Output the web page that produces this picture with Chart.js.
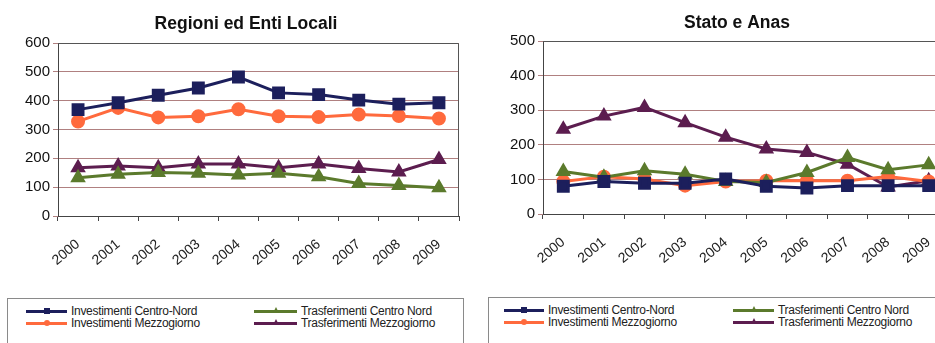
<!DOCTYPE html>
<html>
<head>
<meta charset="utf-8">
<script src="https://cdn.jsdelivr.net/npm/chart.js@4.4.1/dist/chart.umd.min.js"></script>
<style>
  html, body { margin: 0; padding: 0; background: #fff; overflow: hidden; }
  body { width: 935px; height: 343px; position: relative; font-family: 'Liberation Sans', Arial, sans-serif; }
  canvas { position: absolute; top: 0; }
  #chart-left { left: 0; }
  #chart-right { left: 485px; }
  .legend { position: absolute; border: 1px solid #8a8a8a; background: #fff; height: 60px; }
  .item { position: absolute; height: 12px; font-size: 12px; color: #222; white-space: nowrap; }
  .item .ln { position: absolute; top: 5px; height: 3px; }
  .item .mk { position: absolute; }
  .item .tx { position: absolute; top: -1px; letter-spacing: -0.3px; }
</style>
</head>
<body>
<canvas id="chart-left" width="490" height="296"></canvas>
<canvas id="chart-right" width="504" height="294"></canvas>
<div class="legend" id="legend-left" style="left:7px; top:298px; width:455px;"></div>
<div class="legend" id="legend-right" style="left:488px; top:297px; width:500px;"></div>
<script>
const YEARS = ['2000', '2001', '2002', '2003', '2004', '2005', '2006', '2007', '2008', '2009'];

const SERIES_NAMES = [
  'Investimenti Centro-Nord',
  'Trasferimenti Centro Nord',
  'Investimenti Mezzogiorno',
  'Trasferimenti Mezzogiorno'
];

// Regioni ed Enti Locali
const REG_INV_CN = [369, 393, 419, 444, 482, 427, 421, 402, 388, 393];
const REG_TRA_CN = [133, 145, 151, 148, 142, 148, 136, 113, 106, 98];
const REG_INV_MZ = [328, 375, 342, 346, 370, 346, 343, 352, 347, 338];
const REG_TRA_MZ = [167, 173, 167, 180, 180, 167, 180, 165, 153, 196];

// Stato e Anas
const STA_INV_CN = [80, 94, 89, 89, 101, 80, 75, 82, 82, 82];
const STA_TRA_CN = [123, 106, 125, 115, 94, 91, 120, 163, 128, 142];
const STA_INV_MZ = [94, 108, 101, 82, 94, 96, 96, 96, 108, 94];
const STA_TRA_MZ = [245, 283, 308, 264, 222, 188, 178, 144, 78, 96];

const COLORS = ['#1c1f5c', '#5b7a2c', '#ff6a3d', '#5c1d4f'];
const POINTS = ['rect', 'triangle', 'circle', 'triangle'];
const RADII = [7, 6, 5.5, 6];

const FONT = "'Liberation Sans', Arial, sans-serif";

// draws the top and right edges of the plot area
const plotFrame = {
  id: 'plotFrame',
  beforeDatasetsDraw(chart) {
    const { ctx, chartArea: a } = chart;
    ctx.save();
    ctx.strokeStyle = '#555';
    ctx.lineWidth = 1;
    ctx.beginPath();
    ctx.moveTo(a.left, a.top + 0.5);
    ctx.lineTo(a.right - 0.5, a.top + 0.5);
    ctx.lineTo(a.right - 0.5, a.bottom);
    ctx.stroke();
    ctx.restore();
  }
};

// recentres the title block on a given x (Excel centres it a bit off the plot)
const titleShift = {
  id: 'titleShift',
  afterLayout(chart, args, opts) {
    const t = chart.titleBlock;
    if (!t || opts.center == null) return;
    const half = (t.right - t.left) / 2;
    t.left = opts.center - half;
    t.right = opts.center + half;
  }
};

function makeDatasets(values) {
  return values.map((v, i) => ({
    label: SERIES_NAMES[i],
    data: v,
    borderColor: COLORS[i],
    backgroundColor: COLORS[i],
    pointBackgroundColor: COLORS[i],
    pointBorderColor: COLORS[i],
    pointStyle: POINTS[i],
    pointRadius: RADII[i],
    borderWidth: 3,
    tension: 0
  }));
}

function makeChart(id, title, titlePad, titleCenter, max, values, padRight) {
  return new Chart(document.getElementById(id), {
    type: 'line',
    data: { labels: YEARS, datasets: makeDatasets(values) },
    plugins: [plotFrame, titleShift],
    options: {
      responsive: false,
      animation: false,
      devicePixelRatio: 1,
      layout: { padding: { left: 0, right: padRight, top: 0, bottom: 0 } },
      plugins: {
        legend: { display: false },
        tooltip: { enabled: false },
        titleShift: { center: titleCenter },
        title: {
          display: true,
          text: title,
          color: '#111',
          font: { family: FONT, size: 17.5, weight: 'bold' },
          padding: titlePad
        }
      },
      scales: {
        x: {
          offset: true,
          grid: { offset: true, drawOnChartArea: false, drawTicks: true, tickLength: 5, color: '#444' },
          border: { color: '#444', width: 1 },
          ticks: {
            color: '#222',
            font: { family: FONT, size: 14 },
            minRotation: 40,
            maxRotation: 40,
            padding: 15
          },
          afterFit: (s) => { s.height = 80; }
        },
        y: {
          min: 0,
          max: max,
          ticks: {
            stepSize: 100,
            color: '#111',
            font: { family: FONT, size: 15 },
            padding: 3
          },
          grid: { color: '#b08080', tickLength: 5, drawTicks: true },
          border: { color: '#444', width: 1 },
          afterFit: (s) => { s.width = 58; }
        }
      }
    }
  });
}

makeChart('chart-left', 'Regioni ed Enti Locali', { top: 14, bottom: 8 }, 246, 600,
  [REG_INV_CN, REG_TRA_CN, REG_INV_MZ, REG_TRA_MZ], 31);
makeChart('chart-right', 'Stato e Anas', { top: 13, bottom: 7 }, 252, 500,
  [STA_INV_CN, STA_TRA_CN, STA_INV_MZ, STA_TRA_MZ], 40);

// legend: two columns, two rows, same order as the original
function buildLegend(boxId, col1, col2) {
  const box = document.getElementById(boxId);
  const cols = [col1, col2, col1, col2];
  SERIES_NAMES.forEach((name, i) => {
    const item = document.createElement('div');
    item.className = 'item';
    item.style.left = cols[i].x + 'px';
    item.style.top = (i < 2 ? 6 : 18) + 'px';
    const ln = document.createElement('div');
    ln.className = 'ln';
    ln.style.left = '0px';
    ln.style.width = cols[i].w + 'px';
    ln.style.background = COLORS[i];
    const mk = document.createElement('div');
    mk.className = 'mk';
    const mid = cols[i].w / 2;
    if (POINTS[i] === 'triangle') {
      mk.style.left = (mid - 3) + 'px';
      mk.style.top = '2px';
      mk.style.width = '0';
      mk.style.height = '0';
      mk.style.borderLeft = '3px solid transparent';
      mk.style.borderRight = '3px solid transparent';
      mk.style.borderBottom = '6px solid ' + COLORS[i];
    } else {
      mk.style.left = (mid - 3) + 'px';
      mk.style.top = '3px';
      mk.style.width = '6px';
      mk.style.height = '6px';
      mk.style.background = COLORS[i];
      if (POINTS[i] === 'circle') mk.style.borderRadius = '50%';
    }
    const tx = document.createElement('span');
    tx.className = 'tx';
    tx.style.left = (cols[i].w + 4) + 'px';
    tx.textContent = name;
    item.appendChild(ln);
    item.appendChild(mk);
    item.appendChild(tx);
    box.appendChild(item);
  });
}

buildLegend('legend-left', { x: 18, w: 41 }, { x: 246, w: 43 });
buildLegend('legend-right', { x: 15, w: 40 }, { x: 244, w: 41 });
</script>
</body>
</html>
